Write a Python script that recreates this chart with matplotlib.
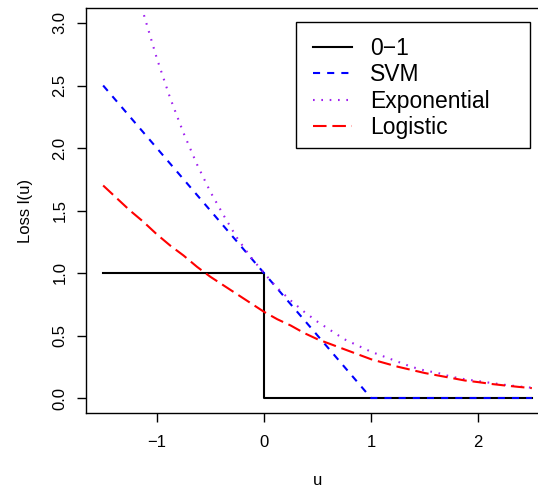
import matplotlib
matplotlib.use('Agg')
import matplotlib.pyplot as plt
from matplotlib.patches import Rectangle

plt.rcParams['font.family'] = ['Liberation Sans', 'DejaVu Sans']

# values
u = [-1.5, -1.375, -1.25, -1.125, -1.0, -0.875, -0.75, -0.625, -0.5, -0.375,
     -0.25, -0.125, 0.0, 0.125, 0.25, 0.375, 0.5, 0.625, 0.75, 0.875, 1.0,
     1.125, 1.25, 1.375, 1.5, 1.625, 1.75, 1.875, 2.0, 2.125, 2.25, 2.375, 2.5]
exp_loss = [4.48, 3.96, 3.49, 3.08, 2.72, 2.40, 2.12, 1.87, 1.65, 1.46,
            1.28, 1.13, 1.00, 0.88, 0.78, 0.69, 0.61, 0.54, 0.47, 0.42, 0.37,
            0.33, 0.29, 0.25, 0.22, 0.20, 0.17, 0.15, 0.135, 0.12, 0.105, 0.093, 0.082]
logit_loss = [1.70, 1.60, 1.50, 1.41, 1.31, 1.22, 1.14, 1.05, 0.97, 0.90,
              0.83, 0.76, 0.69, 0.63, 0.58, 0.52, 0.47, 0.43, 0.39, 0.35, 0.31,
              0.28, 0.25, 0.225, 0.20, 0.18, 0.16, 0.14, 0.127, 0.112, 0.10, 0.089, 0.079]
u01 = [-1.5, 0.0, 0.0, 2.5]
loss01 = [1, 1, 0, 0]
u_svm = [-1.5, 1.0, 2.5]
svm_loss = [2.5, 0, 0]

labels = ["0\u22121", "SVM", "Exponential", "Logistic"]
yticks = [0.0, 0.5, 1.0, 1.5, 2.0, 2.5, 3.0]
xticks = [-1, 0, 1, 2]

fig = plt.figure(figsize=(5.38, 4.87), dpi=100)
W, H = 538, 487
# axes box in pixels: left 86, right 549 (beyond image edge), top 8, bottom 413
ax = fig.add_axes([86 / W, 1 - 413 / H, 463 / W, 405 / H])

lw = 1.5
ax.plot(u01, loss01, color='black', lw=lw, label=labels[0])
ax.plot(u_svm, svm_loss, color='#0000FF', lw=lw, dashes=(3.4, 3.4), label=labels[1])
ax.plot(u, exp_loss, color='#A020F0', lw=lw, dashes=(0.8, 3.2), label=labels[2])
ax.plot(u, logit_loss, color='#FF0000', lw=lw, dashes=(6.5, 2.8), label=labels[3])

ax.set_xlim(-1.66, 2.66)
ax.set_ylim(-0.12, 3.12)
ax.set_xticks(xticks)
ax.set_xticklabels(["\u22121", "0", "1", "2"])
ax.set_yticks(yticks)
ax.set_yticklabels(["%.1f" % v for v in yticks], rotation=90, va='center')
ax.tick_params(axis='both', direction='out', length=6.5, width=1.0, labelsize=12)
ax.tick_params(axis='x', pad=9)
ax.tick_params(axis='y', pad=7)
for s in ax.spines.values():
    s.set_linewidth(1.0)

ax.set_xlabel('u', fontsize=12)
ax.set_ylabel('Loss l(u)', fontsize=12)
ax.xaxis.set_label_coords(0.5, -0.148)
ax.yaxis.set_label_coords(-0.115, 0.5)

leg = ax.legend(loc='upper left', bbox_to_anchor=(313 / W, 1 - 37 / H),
                bbox_transform=fig.transFigure, frameon=False, fontsize=16.5,
                handlelength=1.7, handletextpad=0.79, labelspacing=0.15,
                borderaxespad=0, borderpad=0)
fig.patches.append(Rectangle((296 / W, 1 - 148 / H), 234 / W, 126 / H,
                             transform=fig.transFigure, fill=False,
                             edgecolor='black', lw=1.0))

fig.savefig('out.png', dpi=100)
